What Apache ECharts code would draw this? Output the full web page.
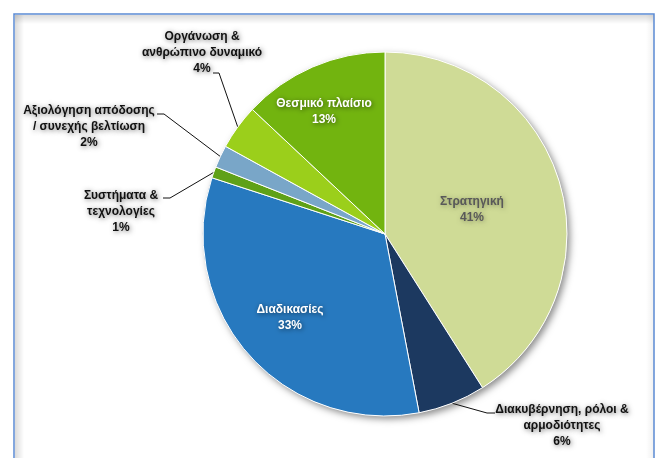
<!DOCTYPE html>
<html><head><meta charset="utf-8">
<script src="https://cdn.jsdelivr.net/npm/echarts@6/dist/echarts.min.js"></script>
<style>html,body{margin:0;padding:0;background:#fff}#c{width:659px;height:458px}</style>
</head><body><div id="c"></div>
<script>
// ---- data ----
const categories = ['Στρατηγική', 'Διακυβέρνηση, ρόλοι &\nαρμοδιότητες', 'Διαδικασίες', 'Συστήματα &\nτεχνολογίες', 'Αξιολόγηση απόδοσης\n/ συνεχής βελτίωση', 'Οργάνωση &\nανθρώπινο δυναμικό', 'Θεσμικό πλαίσιο'];
const values = [41, 6, 33, 1, 2, 4, 13];

// ---- styles / layout ----
const colors = ['#CFDB96', '#1C3960', '#2779BF', '#5FA118', '#79A6C8', '#9BCF1B', '#72B40F'];
const inside = [true, false, true, false, false, false, true];
const textColors = ['#595959', '#111', '#fff', '#111', '#111', '#111', '#fff'];
const labelPos = [[472, 210], [562, 426], [290, 318], [121, 212], [89, 127], [202, 53], [324, 112]];
const lineEnds = [null, [[487, 413], [495, 413]], null, [[170, 198], [163, 198]], [[164, 114], [157, 114]], [[219, 73], [213, 73]], null];

const total = values.reduce((a, b) => a + b, 0);
const chart = echarts.init(document.getElementById('c'), null, {renderer: 'canvas'});

const data = categories.map((name, i) => ({
  name: name,
  value: values[i],
  itemStyle: {color: colors[i]},
  label: {
    position: inside[i] ? 'inside' : 'outside',
    color: textColors[i],
    textShadowColor: i === 0 ? 'rgba(0,0,0,0.35)' : 'rgba(0,0,0,0.55)',
    textShadowBlur: 5,
    textShadowOffsetX: 1,
    textShadowOffsetY: 1
  },
  labelLine: {show: !inside[i]}
}));

chart.setOption({
  animation: false,
  backgroundColor: '#fff',
  graphic: [
    {type: 'rect', z: -10, shape: {x: 15, y: 15, width: 9, height: 460},
     style: {fill: new echarts.graphic.LinearGradient(0, 0, 1, 0, [{offset: 0, color: 'rgba(0,0,0,0.14)'}, {offset: 1, color: 'rgba(0,0,0,0)'}])}},
    {type: 'rect', z: -10, shape: {x: 15, y: 15, width: 639, height: 9},
     style: {fill: new echarts.graphic.LinearGradient(0, 0, 0, 1, [{offset: 0, color: 'rgba(0,0,0,0.14)'}, {offset: 1, color: 'rgba(0,0,0,0)'}])}},
    {type: 'rect', z: -10, shape: {x: 646, y: 15, width: 8, height: 460},
     style: {fill: new echarts.graphic.LinearGradient(0, 0, 1, 0, [{offset: 0, color: 'rgba(0,0,0,0)'}, {offset: 1, color: 'rgba(0,0,0,0.06)'}])}},
    {type: 'rect', z: -5, shape: {x: 14, y: 14, width: 640, height: 470},
     style: {fill: 'none', stroke: '#5B8BD3', lineWidth: 1.5}}
  ],
  series: [
    {
      type: 'pie', silent: true, z: 1,
      center: [385, 234], radius: 182, startAngle: 90,
      label: {show: false}, labelLine: {show: false},
      itemStyle: {color: '#fff', shadowBlur: 7, shadowOffsetX: 3, shadowOffsetY: 3, shadowColor: 'rgba(0,0,0,0.45)'},
      data: [{value: total}]
    },
    {
      type: 'pie', z: 2,
      center: [385, 234], radius: 182, startAngle: 90, clockwise: true,
      itemStyle: {borderColor: '#fff', borderWidth: 1},
      label: {
        show: true,
        fontFamily: '"Liberation Sans", Arial, sans-serif',
        fontWeight: 'bold',
        fontSize: 12,
        lineHeight: 16,
        align: 'center',
        formatter: p => p.name + '\n' + Math.round(p.percent) + '%'
      },
      labelLine: {show: true, length: 10, length2: 8, lineStyle: {color: '#111', width: 1}},
      labelLayout: function (p) {
        const i = p.dataIndex;
        const out = {x: labelPos[i][0], y: labelPos[i][1], align: 'center', verticalAlign: 'middle'};
        if (lineEnds[i] && p.labelLinePoints) {
          out.labelLinePoints = [p.labelLinePoints[0], lineEnds[i][0], lineEnds[i][1]];
        }
        return out;
      },
      emphasis: {disabled: true},
      data: data
    }
  ]
});
</script>
</body></html>
